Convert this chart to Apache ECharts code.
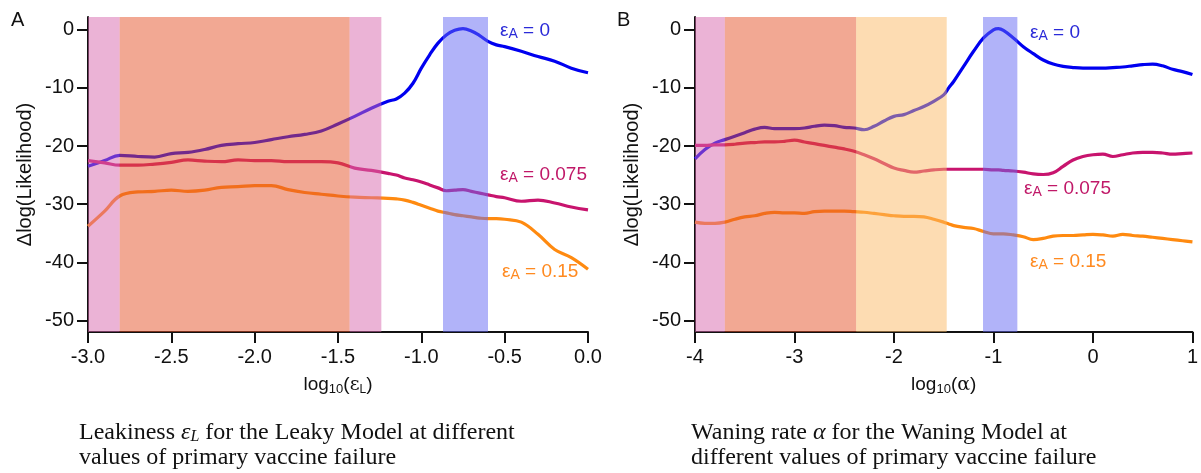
<!DOCTYPE html>
<html><head><meta charset="utf-8">
<script src="https://cdn.jsdelivr.net/npm/echarts@6/dist/echarts.min.js"></script>
<style>html,body{margin:0;padding:0;background:#fff}#c{width:1201px;height:473px}</style>
</head><body><div id="c"></div>
<script>
// ---------- data ----------
const xA = [-3.0,-2.9,-2.81,-2.7,-2.6,-2.5,-2.4,-2.3,-2.2,-2.1,-2.0,-1.9,-1.8,-1.7,-1.6,-1.5,-1.4,-1.3,-1.2,-1.15,-1.1,-1.05,-1.0,-0.95,-0.9,-0.85,-0.8,-0.75,-0.7,-0.65,-0.6,-0.55,-0.5,-0.4,-0.3,-0.2,-0.1,0.0];
const blueA = [-23.5,-22.5,-21.6,-21.8,-21.9,-21.3,-21.1,-20.6,-19.9,-19.6,-19.4,-18.9,-18.4,-18.0,-17.4,-16.2,-14.9,-13.5,-12.3,-11.9,-10.9,-9.2,-6.6,-4.3,-2.3,-0.9,-0.1,0.2,-0.2,-1.0,-2.0,-2.6,-2.9,-3.7,-4.6,-5.4,-6.6,-7.4];
const redA = [-22.5,-22.9,-23.3,-23.3,-23.1,-22.8,-22.4,-22.6,-22.7,-22.4,-22.5,-22.5,-22.7,-22.7,-22.7,-22.9,-23.8,-24.2,-24.7,-25.0,-25.5,-25.8,-26.2,-26.7,-27.2,-27.7,-27.6,-27.5,-27.8,-28.1,-28.4,-28.7,-28.9,-29.5,-29.3,-29.8,-30.5,-31.0];
const orangeA = [-33.8,-31.2,-28.6,-27.9,-27.8,-27.6,-27.8,-27.6,-27.1,-27.0,-26.8,-26.8,-27.5,-28.0,-28.3,-28.6,-28.8,-28.9,-29.0,-29.1,-29.3,-29.7,-30.2,-30.7,-31.2,-31.5,-31.8,-32.0,-32.2,-32.4,-32.5,-32.5,-32.6,-33.1,-35.2,-37.8,-39.2,-41.2];

const xB = [-4,-3.9,-3.8,-3.7,-3.6,-3.5,-3.4,-3.3,-3.2,-3.1,-3.0,-2.9,-2.8,-2.7,-2.6,-2.5,-2.4,-2.3,-2.2,-2.1,-2.0,-1.9,-1.8,-1.7,-1.6,-1.5,-1.45,-1.4,-1.3,-1.2,-1.1,-1.0,-0.95,-0.9,-0.8,-0.7,-0.6,-0.5,-0.4,-0.3,-0.2,-0.1,0,0.1,0.2,0.3,0.4,0.5,0.6,0.7,0.8,0.9,1.0];
const blueB = [-22.2,-20.6,-19.5,-18.9,-18.3,-17.7,-17.1,-16.8,-17.0,-17.0,-17.0,-16.9,-16.6,-16.4,-16.5,-16.8,-16.9,-17.2,-16.6,-15.7,-14.9,-14.6,-13.9,-13.2,-12.3,-11.2,-10.0,-8.9,-6.3,-3.7,-1.4,0.0,0.2,-0.1,-1.4,-2.9,-4.1,-5.2,-5.9,-6.3,-6.5,-6.6,-6.6,-6.6,-6.5,-6.4,-6.2,-6.0,-5.9,-6.2,-6.8,-7.2,-7.7];
const redB = [-19.9,-19.9,-19.8,-19.8,-19.7,-19.5,-19.4,-19.3,-19.3,-19.2,-19.0,-19.3,-19.6,-19.9,-20.2,-20.5,-20.9,-21.5,-22.2,-23.0,-23.8,-24.2,-24.5,-24.3,-24.1,-24.0,-24.0,-24.0,-24.0,-24.0,-24.0,-24.1,-24.1,-24.2,-24.3,-24.5,-24.8,-24.9,-24.6,-23.5,-22.4,-21.8,-21.5,-21.4,-21.8,-21.5,-21.2,-21.1,-21.1,-21.2,-21.4,-21.3,-21.2];
const orangeB = [-33.1,-33.3,-33.3,-33.1,-32.6,-32.2,-32.0,-31.6,-31.4,-31.5,-31.5,-31.6,-31.3,-31.2,-31.2,-31.2,-31.3,-31.4,-31.6,-31.8,-32.0,-32.1,-32.1,-32.2,-32.6,-33.1,-33.4,-33.7,-34.0,-34.2,-34.7,-35.1,-35.1,-35.1,-35.3,-35.6,-36.1,-35.9,-35.5,-35.4,-35.4,-35.3,-35.2,-35.3,-35.5,-35.2,-35.4,-35.5,-35.7,-35.9,-36.1,-36.3,-36.5];

const bandsA = [[-3.0,-2.81,'pink'],[-2.81,-1.43,'salmon'],[-1.43,-1.24,'pink'],[-0.87,-0.60,'blue']];
const bandsB = [[-4.0,-3.70,'pink'],[-3.70,-2.38,'salmon'],[-2.38,-1.47,'peach'],[-1.105,-0.76,'blue']];

const yTicks = [0,-10,-20,-30,-40,-50];
const xTicksA = [-3.0,-2.5,-2.0,-1.5,-1.0,-0.5,0.0];
const xTicksB = [-4,-3,-2,-1,0,1];
const seriesNames = ['0','0.075','0.15'];

// ---------- style ----------
const bandColor = {pink:'rgba(215,103,173,0.5)', salmon:'rgba(229,81,39,0.5)', peach:'rgba(251,185,101,0.5)', blue:'rgba(99,103,243,0.5)'};
const lineColors = ['#0000f0','#c8146e','#ff8a10'];
const SANS = 'Liberation Sans, Arial, sans-serif';

function zip(xs, ys){ return xs.map((x,i)=>[x,ys[i]]); }

const chart = echarts.init(document.getElementById('c'), null, {renderer:'canvas'});

function makeX(idx, min, max, interval, ticks, dec, nameRich){
  return {
    type:'value', gridIndex:idx, min:min, max:max, interval:interval,
    axisLine:{show:true, onZero:false, lineStyle:{color:'#111', width:2}},
    axisTick:{show:true, length:11, inside:false, lineStyle:{color:'#111', width:2}},
    axisLabel:{color:'#111', fontFamily:SANS, fontSize:20, margin:15,
      formatter: v => dec ? v.toFixed(1) : String(v)},
    splitLine:{show:false},
    name: nameRich, nameLocation:'middle', nameGap:42,
    nameTextStyle:{color:'#111', fontFamily:SANS, fontSize:19,
      rich:{sub:{fontSize:13, fontFamily:SANS, color:'#111', padding:[9,0,0,0]},
            g:{fontSize:19, fontFamily:'DejaVu Serif, serif', color:'#111'},
            gs:{fontSize:12, fontFamily:SANS, color:'#111', padding:[9,0,0,0]}}}
  };
}
function makeY(idx){
  return {
    type:'value', gridIndex:idx, min:-52, max:2.2,
    axisLine:{show:true, onZero:false, lineStyle:{color:'#111', width:2}},
    axisTick:{show:true, length:11, customValues:yTicks, lineStyle:{color:'#111', width:2}},
    axisLabel:{color:'#111', fontFamily:SANS, fontSize:20, margin:14, customValues:yTicks,
      formatter: v => String(v)},
    splitLine:{show:false},
    name:'\u0394log(Likelihood)', nameLocation:'middle', nameGap:53, nameRotate:90,
    nameTextStyle:{color:'#111', fontFamily:SANS, fontSize:20}
  };
}
function lineSeries(idx, xs, ys, c){
  return {type:'line', xAxisIndex:idx, yAxisIndex:idx, data:zip(xs,ys), showSymbol:false, smooth:0.4,
    lineStyle:{color:c, width:3.2}, itemStyle:{color:c}, z:2, silent:true};
}
function bandSeries(idx, bands){
  return {type:'line', xAxisIndex:idx, yAxisIndex:idx, data:[], z:6, zlevel:0, silent:true,
    markArea:{silent:true, z:10, label:{show:false},
      data: bands.map(b=>[{xAxis:b[0], itemStyle:{color:bandColor[b[2]]}},{xAxis:b[1]}])}};
}

function label(x, y, val, color){
  return {type:'text', left:x, top:y, z:50, style:{
    text:'\u03b5{s|A} = ' + val, fill:color, font:'19px '+SANS,
    rich:{s:{fontSize:14, fontFamily:SANS, fill:color, padding:[8,0,0,0]}}}};
}

const CAPF = 'Liberation Serif, Times New Roman, serif';
const option = {
  animation:false,
  backgroundColor:'#fff',
  grid:[{left:88, top:17, width:500, height:315},{left:695, top:17, width:498, height:315}],
  xAxis:[makeX(0,-3,0,0.5,xTicksA,true,'log{sub|10}({g|\u03b5}{gs|L})'), makeX(1,-4,1,1,xTicksB,false,'log{sub|10}({g|\u03b1})')],
  yAxis:[makeY(0), makeY(1)],
  series:[
    lineSeries(0,xA,blueA,lineColors[0]), lineSeries(0,xA,redA,lineColors[1]), lineSeries(0,xA,orangeA,lineColors[2]),
    bandSeries(0,bandsA),
    lineSeries(1,xB,blueB,lineColors[0]), lineSeries(1,xB,redB,lineColors[1]), lineSeries(1,xB,orangeB,lineColors[2]),
    bandSeries(1,bandsB)
  ],
  graphic:[
    {type:'text', left:11, top:10, style:{text:'A', font:'20px '+SANS, fill:'#111'}},
    {type:'text', left:617, top:10, style:{text:'B', font:'20px '+SANS, fill:'#111'}},
    label(500, 21, seriesNames[0], '#2a2ad8'),
    label(500, 165, seriesNames[1], '#c01868'),
    label(502, 262, seriesNames[2], '#ff8a20'),
    label(1030, 23, seriesNames[0], '#2a2ad8'),
    label(1024, 179, seriesNames[1], '#c01868'),
    label(1030, 252, seriesNames[2], '#ff8a20'),
    {type:'text', left:79, top:420, style:{
      text:'Leakiness {i|\u03b5}{is|L} for the Leaky Model at different\n{n|values of primary vaccine failure}',
      font:'24px '+CAPF, fill:'#111', lineHeight:25,
      rich:{i:{fontStyle:'italic', fontSize:24, fontFamily:CAPF, fill:'#111', lineHeight:25},
            is:{fontStyle:'italic', fontSize:16, fontFamily:CAPF, fill:'#111', lineHeight:25, padding:[9,0,0,0]},
            n:{fontSize:24, fontFamily:CAPF, fill:'#111', lineHeight:25}}}},
    {type:'text', left:691, top:420, style:{
      text:'Waning rate {i|\u03b1} for the Waning Model at\n{n|different values of primary vaccine failure}',
      font:'24px '+CAPF, fill:'#111', lineHeight:25,
      rich:{i:{fontStyle:'italic', fontSize:24, fontFamily:CAPF, fill:'#111', lineHeight:25},
            n:{fontSize:24, fontFamily:CAPF, fill:'#111', lineHeight:25}}}}
  ]
};
chart.setOption(option);
</script></body></html>
